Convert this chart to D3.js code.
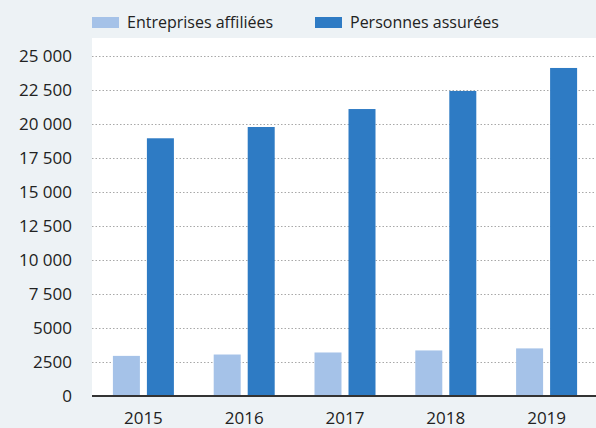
<!DOCTYPE html>
<html><head><meta charset="utf-8">
<script src="https://cdn.jsdelivr.net/npm/d3@7"></script>
<style>
html,body{margin:0;padding:0;background:#edf2f5;}
svg{display:block;font-family:"Open Sans","Noto Sans",sans-serif;}
</style></head>
<body><svg id="c" width="596" height="428"></svg>
<script>
const years = ["2015","2016","2017","2018","2019"];
const seriesNames = ["Entreprises affiliées","Personnes assurées"];
const entreprises = [2950, 3050, 3200, 3350, 3500];
const personnes = [18950, 19780, 21100, 22430, 24120];
const tickValues = [0,2500,5000,7500,10000,12500,15000,17500,20000,22500,25000];
const tickLabels = ["0","2500","5000","7 500","10 000","12 500","15 000","17 500","20 000","22 500","25 000"];
const colors = ["#a5c2e8","#2e7bc4"];

const svg = d3.select("#c");
const L = 92, R = 596, T = 38, B = 396;
svg.append("rect").attr("x",L).attr("y",T).attr("width",R-L).attr("height",B-T).attr("fill","#fff");

const y = d3.scaleLinear().domain([0,25000]).range([B,56]);
const x = d3.scaleBand().domain(years).range([L+1,R+1]).paddingInner(0).paddingOuter(0);
const xs = d3.scaleBand().domain(seriesNames).range([-30.5,30.5]).paddingInner(0.206);

// gridlines
svg.append("g").selectAll("line").data(tickValues.filter(d=>d>0)).join("line")
  .attr("x1",L).attr("x2",R).attr("y1",d=>Math.round(y(d))+0.5).attr("y2",d=>Math.round(y(d))+0.5)
  .attr("stroke","#a8a8a8").attr("stroke-width",1).attr("stroke-dasharray","1.5,2");

// y axis labels
const yAxis = d3.axisLeft(y).tickValues(tickValues).tickFormat((d,i)=>tickLabels[i]).tickSize(0).tickPadding(0);
const ga = svg.append("g").attr("transform",`translate(72,0)`).call(yAxis);
ga.select(".domain").remove();
ga.selectAll("text").attr("font-size",17).attr("fill","#222").attr("font-family","Open Sans, sans-serif");

// bars
const data = [entreprises, personnes];
years.forEach((yr,i)=>{
  seriesNames.forEach((s,j)=>{
    svg.append("rect")
      .attr("x", x(yr)+x.bandwidth()/2 + xs(s))
      .attr("width", xs.bandwidth())
      .attr("y", y(data[j][i]))
      .attr("height", B - y(data[j][i]))
      .attr("fill", colors[j]);
  });
});

// zero line
svg.append("line").attr("x1",L).attr("x2",R).attr("y1",B).attr("y2",B).attr("stroke","#333").attr("stroke-width",2);

// x axis labels
const xAxis = d3.axisBottom(x).tickSize(0).tickPadding(0);
const gx = svg.append("g").attr("transform",`translate(0,${B})`).call(xAxis);
gx.select(".domain").remove();
gx.selectAll("text").attr("font-size",17).attr("fill","#222").attr("dy",null).attr("y",28).attr("font-family","Open Sans, sans-serif");

// legend
const legX = [92, 315];
seriesNames.forEach((s,j)=>{
  svg.append("rect").attr("x",legX[j]).attr("y",17).attr("width",27).attr("height",11).attr("fill",colors[j]);
  svg.append("text").attr("x",legX[j]+35).attr("y",28).attr("font-size",16).attr("fill","#222").text(s);
});
</script></body></html>
